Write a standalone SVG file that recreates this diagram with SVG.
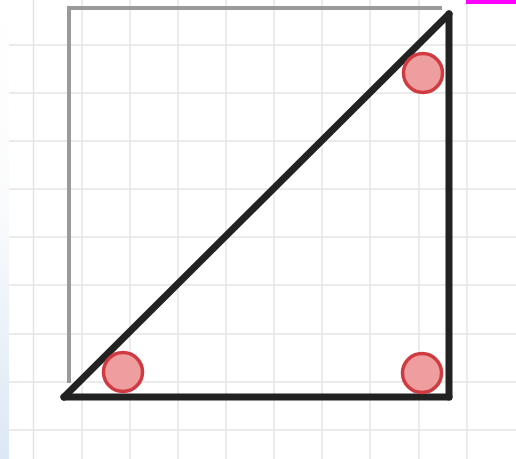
<svg xmlns="http://www.w3.org/2000/svg" width="516" height="459" viewBox="0 0 516 459">
<defs>
<linearGradient id="edge" x1="0" y1="0" x2="0" y2="1">
<stop offset="0" stop-color="#ffffff"/>
<stop offset="0.45" stop-color="#fafbfc"/>
<stop offset="1" stop-color="#dce8f5"/>
</linearGradient>
</defs>
<style>
.grid line{stroke:#e4e4e6;stroke-width:1.5}
.guide{stroke:#9a9a9a;stroke-width:4;fill:none;stroke-linecap:butt}
.edge{stroke:#222222;stroke-width:7;fill:none;stroke-linecap:round;stroke-linejoin:round}
.mark{fill:#ee9e9f;stroke:#cf3b40;stroke-width:3.5}
</style>
<rect width="516" height="459" fill="#ffffff"/>
<rect x="0" y="0" width="9" height="459" fill="url(#edge)"/>
<g class="grid">
<line x1="33.5" y1="0" x2="33.5" y2="459"/>
<line x1="82" y1="0" x2="82" y2="459"/>
<line x1="130" y1="0" x2="130" y2="459"/>
<line x1="178" y1="0" x2="178" y2="459"/>
<line x1="226" y1="0" x2="226" y2="459"/>
<line x1="274" y1="0" x2="274" y2="459"/>
<line x1="322" y1="0" x2="322" y2="459"/>
<line x1="370" y1="0" x2="370" y2="459"/>
<line x1="419" y1="0" x2="419" y2="459"/>
<line x1="467" y1="0" x2="467" y2="459"/>
<line x1="9" y1="45" x2="516" y2="45"/>
<line x1="9" y1="93" x2="516" y2="93"/>
<line x1="9" y1="141" x2="516" y2="141"/>
<line x1="9" y1="189" x2="516" y2="189"/>
<line x1="9" y1="237" x2="516" y2="237"/>
<line x1="9" y1="285" x2="516" y2="285"/>
<line x1="9" y1="334" x2="516" y2="334"/>
<line x1="9" y1="382" x2="516" y2="382"/>
<line x1="9" y1="430" x2="516" y2="430"/>
</g>
<rect x="466" y="0" width="50" height="4" fill="#ff00ff"/>
<g id="guide">
<polyline class="guide" points="69,383 69,8 442,8"/>
</g>
<g id="connectors">
<line class="edge" x1="64" y1="397" x2="449" y2="14"/>
<line class="edge" x1="449" y1="14" x2="449" y2="397"/>
<line class="edge" x1="64" y1="397" x2="449" y2="397"/>
</g>
<g id="angle-top">
<circle class="mark" cx="423" cy="73" r="19.5"/>
</g>
<g id="angle-left">
<circle class="mark" cx="123" cy="372" r="19.5"/>
</g>
<g id="angle-right">
<circle class="mark" cx="422" cy="373" r="19.5"/>
</g>
</svg>
